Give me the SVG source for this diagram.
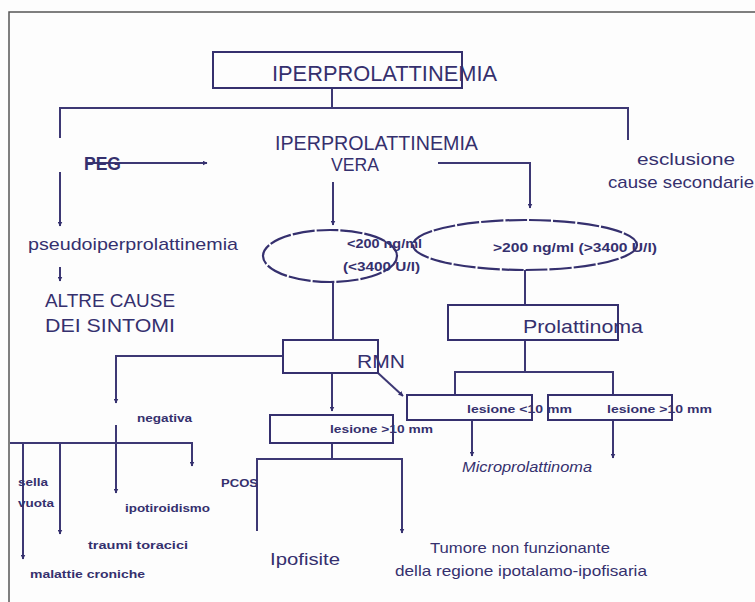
<svg xmlns="http://www.w3.org/2000/svg" width="755" height="602" viewBox="0 0 755 602">
<defs>
<marker id="ah" viewBox="0 0 10 10" refX="9" refY="5" markerWidth="5" markerHeight="5" orient="auto" markerUnits="userSpaceOnUse"><path d="M0,0 L10,5 L0,10 z" fill="#35306e"/></marker>
</defs>
<style>
.ln{stroke:#3d3874;stroke-width:2;fill:none}
.bx{stroke:#35306e;stroke-width:2;fill:none}
.t{font-family:"Liberation Sans","DejaVu Sans",sans-serif;fill:#35306e}
.b{font-weight:bold}
.el{stroke:#35306e;stroke-width:2.2;fill:none;stroke-dasharray:22 2}
</style>
<rect x="0" y="0" width="755" height="602" fill="#fdfdfd"/>
<path d="M9,602 L9,12 L755,12" fill="none" stroke="#555" stroke-width="1.5"/>

<g id="connectors">
<line class="ln" x1="332" y1="88" x2="332" y2="108"/>
<path class="ln" d="M60,138 L60,108 L628,108 L628,140"/>
<line class="ln" x1="86" y1="163" x2="207" y2="163" marker-end="url(#ah)"/>
<path class="ln" d="M438,163 L530,163 L530,208" marker-end="url(#ah)"/>
<line class="ln" x1="60" y1="172" x2="60" y2="226" marker-end="url(#ah)"/>
<line class="ln" x1="333" y1="182" x2="333" y2="225" marker-end="url(#ah)"/>
<line class="ln" x1="60" y1="267" x2="60" y2="281" marker-end="url(#ah)"/>
<line class="ln" x1="333" y1="282" x2="333" y2="340"/>
<line class="ln" x1="525" y1="270" x2="525" y2="305"/>
<line class="ln" x1="525" y1="340" x2="525" y2="372"/>
<path class="ln" d="M455,395 L455,372 L613,372 L613,395"/>
<line class="ln" x1="472" y1="420" x2="472" y2="456" marker-end="url(#ah)"/>
<line class="ln" x1="613" y1="420" x2="613" y2="458" marker-end="url(#ah)"/>
<line class="ln" x1="378" y1="373" x2="403" y2="396" marker-end="url(#ah)"/>
<line class="ln" x1="332" y1="373" x2="332" y2="411" marker-end="url(#ah)"/>
<path class="ln" d="M283,356 L116,356 L116,403" marker-end="url(#ah)"/>
<line class="ln" x1="116" y1="425" x2="116" y2="493" marker-end="url(#ah)"/>
<path class="ln" d="M10,443 L192,443 L192,466" marker-end="url(#ah)"/>
<line class="ln" x1="23" y1="443" x2="23" y2="559" marker-end="url(#ah)"/>
<line class="ln" x1="60" y1="443" x2="60" y2="534" marker-end="url(#ah)"/>
<line class="ln" x1="332" y1="443" x2="332" y2="459"/>
<path class="ln" d="M257,531 L257,459 L402,459 L402,533" marker-end="url(#ah)"/>
</g>

<g id="n-iperprolattinemia">
<rect class="bx" x="213" y="52" width="249" height="36"/>
<text class="t" x="272" y="81" font-size="22" textLength="225" lengthAdjust="spacingAndGlyphs">IPERPROLATTINEMIA</text>
</g>
<g id="n-vera">
<text class="t" x="275" y="150" font-size="21" textLength="203" lengthAdjust="spacingAndGlyphs">IPERPROLATTINEMIA</text>
<text class="t" x="331" y="171" font-size="18" textLength="48" lengthAdjust="spacingAndGlyphs">VERA</text>
</g>
<g id="n-peg">
<text class="t b" x="84" y="170" font-size="19" textLength="37" lengthAdjust="spacingAndGlyphs">PEG</text>
</g>
<g id="n-esclusione">
<text class="t" x="637" y="165" font-size="17" textLength="98" lengthAdjust="spacingAndGlyphs">esclusione</text>
<text class="t" x="608" y="188" font-size="17" textLength="146" lengthAdjust="spacingAndGlyphs">cause secondarie</text>
</g>
<g id="n-pseudo">
<text class="t" x="28" y="250" font-size="17" textLength="210" lengthAdjust="spacingAndGlyphs">pseudoiperprolattinemia</text>
</g>
<g id="n-altre">
<text class="t" x="45" y="307" font-size="18" textLength="130" lengthAdjust="spacingAndGlyphs">ALTRE CAUSE</text>
<text class="t" x="45" y="332" font-size="18" textLength="130" lengthAdjust="spacingAndGlyphs">DEI SINTOMI</text>
</g>
<g id="n-lt200">
<ellipse class="el" cx="330" cy="256" rx="67" ry="26"/>
<text class="t b" x="347" y="248" font-size="12" textLength="75" lengthAdjust="spacingAndGlyphs">&lt;200 ng/ml</text>
<text class="t b" x="343" y="271" font-size="12" textLength="77" lengthAdjust="spacingAndGlyphs">(&lt;3400 U/l)</text>
</g>
<g id="n-gt200">
<ellipse class="el" cx="525" cy="245" rx="112" ry="25"/>
<text class="t b" x="493" y="252" font-size="12" textLength="164" lengthAdjust="spacingAndGlyphs">&gt;200 ng/ml (&gt;3400 U/l)</text>
</g>
<g id="n-prolattinoma">
<rect class="bx" x="448" y="305" width="170" height="35"/>
<text class="t" x="523" y="333" font-size="19" textLength="120" lengthAdjust="spacingAndGlyphs">Prolattinoma</text>
</g>
<g id="n-rmn">
<rect class="bx" x="283" y="340" width="95" height="33"/>
<text class="t" x="357" y="368" font-size="19" textLength="48" lengthAdjust="spacingAndGlyphs">RMN</text>
</g>
<g id="n-les-lt10">
<rect class="bx" x="407" y="395" width="125" height="25"/>
<text class="t b" x="467" y="413" font-size="11" textLength="105" lengthAdjust="spacingAndGlyphs">lesione &lt;10 mm</text>
</g>
<g id="n-les-gt10-r">
<rect class="bx" x="548" y="395" width="124" height="25"/>
<text class="t b" x="607" y="413" font-size="11" textLength="105" lengthAdjust="spacingAndGlyphs">lesione &gt;10 mm</text>
</g>
<g id="n-micro">
<text class="t" x="462" y="472" font-size="15" font-style="italic" textLength="130" lengthAdjust="spacingAndGlyphs">Microprolattinoma</text>
</g>
<g id="n-les-gt10">
<rect class="bx" x="270" y="415" width="123" height="28"/>
<text class="t b" x="330" y="433" font-size="11" textLength="103" lengthAdjust="spacingAndGlyphs">lesione &gt;10 mm</text>
</g>
<g id="n-pcos">
<text class="t b" x="221" y="487" font-size="11" textLength="37" lengthAdjust="spacingAndGlyphs">PCOS</text>
</g>
<g id="n-ipofisite">
<text class="t" x="270" y="565" font-size="17" textLength="70" lengthAdjust="spacingAndGlyphs">Ipofisite</text>
</g>
<g id="n-tumore">
<text class="t" x="430" y="553" font-size="15" textLength="180" lengthAdjust="spacingAndGlyphs">Tumore non funzionante</text>
<text class="t" x="395" y="576" font-size="15" textLength="252" lengthAdjust="spacingAndGlyphs">della regione ipotalamo-ipofisaria</text>
</g>
<g id="n-negativa">
<text class="t b" x="137" y="422" font-size="11" textLength="55" lengthAdjust="spacingAndGlyphs">negativa</text>
</g>
<g id="n-sella">
<text class="t b" x="18" y="486" font-size="11" textLength="30" lengthAdjust="spacingAndGlyphs">sella</text>
<text class="t b" x="18" y="507" font-size="11" textLength="36" lengthAdjust="spacingAndGlyphs">vuota</text>
</g>
<g id="n-ipotiroidismo">
<text class="t b" x="125" y="512" font-size="11" textLength="85" lengthAdjust="spacingAndGlyphs">ipotiroidismo</text>
</g>
<g id="n-traumi">
<text class="t b" x="88" y="549" font-size="11" textLength="100" lengthAdjust="spacingAndGlyphs">traumi toracici</text>
</g>
<g id="n-malattie">
<text class="t b" x="30" y="578" font-size="11" textLength="115" lengthAdjust="spacingAndGlyphs">malattie croniche</text>
</g>
</svg>
